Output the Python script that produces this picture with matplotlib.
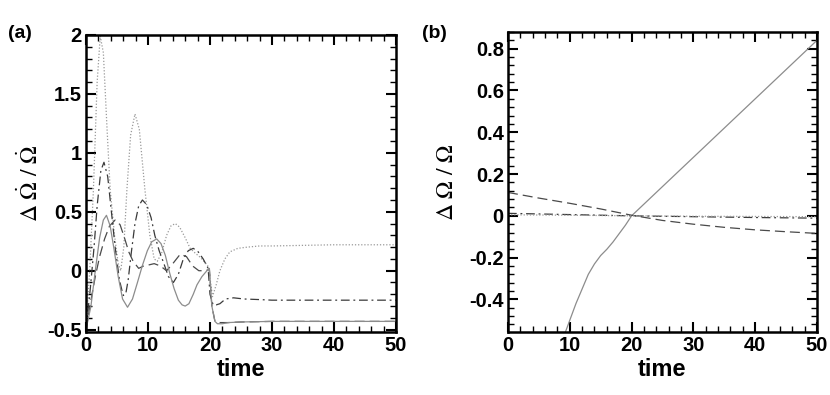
import matplotlib
matplotlib.use("Agg")
import matplotlib.pyplot as plt
from matplotlib.ticker import MultipleLocator, FormatStrFormatter

plt.rcParams['font.family'] = ['Liberation Sans', 'DejaVu Sans']
plt.rcParams['mathtext.fontset'] = 'stix'

# ---- panel (a): relative change of the spin-down rate ----
t_dot_a = [0, 0.6, 1.2, 1.8, 2.3, 2.8, 3.4, 3.9, 4.6, 5.2, 5.6, 6.1, 6.6, 7.2, 7.9,
           8.6, 9.5, 10.3, 11.0, 11.5, 12.2, 13.0, 13.7, 14.4, 15.1, 16.0, 16.8,
           17.6, 18.4, 19.2, 19.8, 20.1, 20.4, 21.0, 21.6, 22.4, 23.2, 24.5, 26,
           28, 30, 35, 40, 50]
y_dot_a = [-0.5, 0.0, 0.69, 1.6, 1.99, 1.85, 1.2, 0.69, 0.3, 0.06, 0.0, 0.2, 0.69,
           1.15, 1.33, 1.2, 0.69, 0.3, 0.1, 0.08, 0.15, 0.3, 0.38, 0.40, 0.37, 0.28,
           0.19, 0.15, 0.115, 0.07, 0.03, -0.1, -0.22, -0.12, 0.0, 0.1, 0.16, 0.19,
           0.2, 0.21, 0.21, 0.215, 0.22, 0.22]

t_dd_a = [0, 0.7, 1.3, 1.8, 2.4, 2.9, 3.5, 4.0, 4.7, 5.4, 6.0, 6.4, 6.8, 7.3, 7.9,
          8.5, 9.1, 9.8, 10.5, 11.1, 11.8, 12.5, 13.3, 14.1, 14.9, 15.7, 16.5, 17.3,
          18.1, 18.9, 19.7, 20.0, 20.5, 21.0, 21.6, 22.5, 23.8, 25.5, 28, 30, 40, 50]
y_dd_a = [-0.5, -0.15, 0.2, 0.55, 0.85, 0.92, 0.8, 0.55, 0.2, -0.08, -0.21, -0.2,
          -0.08, 0.15, 0.4, 0.55, 0.6, 0.56, 0.45, 0.3, 0.17, 0.07, -0.05, -0.1,
          -0.03, 0.1, 0.17, 0.19, 0.16, 0.1, 0.02, -0.2, -0.29, -0.29, -0.28,
          -0.24, -0.23, -0.24, -0.245, -0.25, -0.25, -0.25]

t_da_a = [0, 0.8, 1.5, 2.2, 3.0, 3.8, 4.7, 5.5, 6.2, 6.9, 7.6, 8.5, 9.3, 10.2, 11.0,
          12.0, 13.0, 14.0, 15.2, 16.2, 17.2, 18.2, 19.2, 19.9, 20.3, 20.8, 21.5,
          23, 25, 30, 40, 50]
y_da_a = [-0.5, -0.25, -0.05, 0.12, 0.27, 0.38, 0.43, 0.39, 0.28, 0.16, 0.08, 0.02,
          0.04, 0.05, 0.06, 0.04, 0.0, 0.06, 0.14, 0.12, 0.04, 0.0, 0.0, 0.01, -0.3,
          -0.43, -0.44, -0.44, -0.435, -0.43, -0.43, -0.43]

t_sol_a = [0, 0.8, 1.5, 2.2, 2.8, 3.3, 3.9, 4.5, 5.2, 5.9, 6.7, 7.5, 8.3, 9.1, 9.9,
           10.6, 11.4, 12.1, 12.8, 13.5, 14.2, 14.9, 15.5, 16.0, 16.6, 17.3, 17.9,
           18.7, 19.5, 19.9, 20.3, 20.8, 21.2, 22, 23, 25, 30, 50]
y_sol_a = [-0.5, -0.3, 0.0, 0.28, 0.43, 0.47, 0.38, 0.19, -0.05, -0.24, -0.31, -0.24,
           -0.1, 0.045, 0.17, 0.245, 0.27, 0.23, 0.13, -0.02, -0.15, -0.25, -0.29,
           -0.30, -0.28, -0.2, -0.12, -0.05, 0.0, 0.02, -0.3, -0.43, -0.45, -0.45,
           -0.44, -0.435, -0.43, -0.43]

# ---- panel (b): relative change of the spin rate ----
t_sol_b = [0, 5, 9, 10, 11, 12, 13, 14, 15, 16, 17, 18, 19, 20, 25, 30, 35, 40, 45, 50]
y_sol_b = [-1.2, -0.85, -0.58, -0.50, -0.42, -0.35, -0.28, -0.23, -0.19, -0.16,
           -0.125, -0.085, -0.045, 0.0, 0.14, 0.28, 0.42, 0.56, 0.70, 0.84]

t_da_b = [0, 5, 10, 15, 20, 25, 30, 35, 40, 45, 50]
y_da_b = [0.112, 0.085, 0.06, 0.033, 0.003, -0.022, -0.040, -0.055, -0.067, -0.076, -0.084]

t_dd_b = [0, 10, 20, 30, 40, 50]
y_dd_b = [0.012, 0.006, 0.0, -0.004, -0.008, -0.011]
y_dot_b = [0.005, 0.003, 0.0, -0.002, -0.003, -0.004]

x_ticks = [0, 10, 20, 30, 40, 50]

solid = dict(color='#8c8c8c', lw=0.9, ls='-')
dotted = dict(color='#9a9a9a', lw=0.9, ls=(0, (1, 1.5)))
dashdot = dict(color='#3a3a3a', lw=0.9, ls=(0, (7, 3, 1.5, 3)))
dashed = dict(color='#4a4a4a', lw=0.9, ls=(0, (8, 4)))


def style_axes(ax, ymajor, yminor, yfmt):
    ax.set_xlim(0, 50)
    ax.set_xticks(x_ticks)
    ax.xaxis.set_minor_locator(MultipleLocator(2))
    ax.yaxis.set_major_locator(MultipleLocator(ymajor))
    ax.yaxis.set_minor_locator(MultipleLocator(yminor))
    ax.yaxis.set_major_formatter(FormatStrFormatter(yfmt))
    ax.tick_params(which='both', direction='in', top=True, right=True, width=1.5)
    ax.tick_params(which='major', length=7, labelsize=14.5, pad=3)
    ax.tick_params(which='minor', length=4, width=1.0)
    for lab in ax.get_xticklabels() + ax.get_yticklabels():
        lab.set_fontweight('bold')
    for sp in ax.spines.values():
        sp.set_linewidth(1.8)
    ax.set_xlabel('time', fontsize=17, fontweight='bold', labelpad=2)


fig = plt.figure(figsize=(8.3, 3.95), dpi=100)

ax1 = fig.add_axes([0.1036, 0.1595, 0.3735, 0.7519])
ax1.plot(t_dot_a, y_dot_a, **dotted)
ax1.plot(t_dd_a, y_dd_a, **dashdot)
ax1.plot(t_da_a, y_da_a, **dashed)
ax1.plot(t_sol_a, y_sol_a, **solid)
ax1.set_ylim(-0.52, 2.0)
style_axes(ax1, 0.5, 0.1, '%g')
ax1.set_ylabel(r'$\Delta\ \dot{\Omega}\ /\ \dot{\Omega}$', fontsize=17, labelpad=3)
fig.text(0.010, 0.905, '(a)', fontsize=14, fontweight='bold')

ax2 = fig.add_axes([0.612, 0.1595, 0.3723, 0.7595])
ax2.plot(t_sol_b, y_sol_b, **solid)
ax2.plot(t_da_b, y_da_b, **dashed)
ax2.plot(t_dd_b, y_dd_b, **dashdot)
ax2.plot(t_dd_b, y_dot_b, **dotted)
ax2.set_ylim(-0.556, 0.88)
style_axes(ax2, 0.2, 0.04, '%g')
ax2.set_ylabel(r'$\Delta\ \Omega\ /\ \Omega$', fontsize=17, labelpad=8)
fig.text(0.509, 0.905, '(b)', fontsize=14, fontweight='bold')

fig.savefig('out.png', dpi=100)
